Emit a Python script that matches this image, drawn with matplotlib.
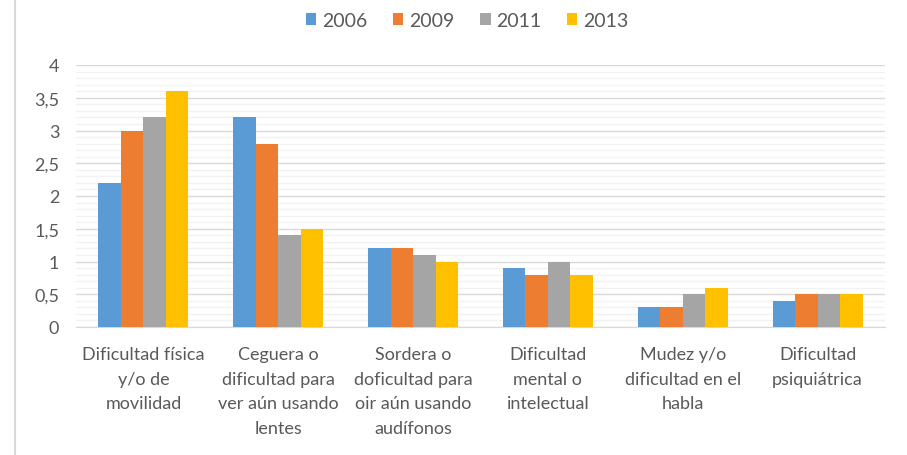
import numpy as np
import matplotlib.pyplot as plt
from matplotlib.lines import Line2D
from matplotlib.ticker import MultipleLocator, FuncFormatter

# --- data ---
categories = [
    'Dificultad física\ny/o de\nmovilidad',
    'Ceguera o\ndificultad para\nver aún usando\nlentes',
    'Sordera o\ndoficultad para\noir aún usando\naudífonos',
    'Dificultad\nmental o\nintelectual',
    'Mudez y/o\ndificultad en el\nhabla',
    'Dificultad\npsiquiátrica',
]
years = ['2006', '2009', '2011', '2013']
v2006 = [2.2, 3.2, 1.2, 0.9, 0.3, 0.4]
v2009 = [3.0, 2.8, 1.2, 0.8, 0.3, 0.5]
v2011 = [3.2, 1.4, 1.1, 1.0, 0.5, 0.5]
v2013 = [3.6, 1.5, 1.0, 0.8, 0.6, 0.5]
series = [v2006, v2009, v2011, v2013]
colors = ['#5B9BD5', '#ED7D31', '#A5A5A5', '#FFC000']

plt.rcParams['font.family'] = ['Lato', 'DejaVu Sans']
text_color = '#595959'

fig = plt.figure(figsize=(9.07, 4.56), dpi=100)
ax = fig.add_axes([76 / 907, 1 - 328 / 456, 809 / 907, 262 / 456])

x = np.arange(len(categories))
bw = 0.167
for i, (vals, col, yr) in enumerate(zip(series, colors, years)):
    ax.bar(x + (i - 1.5) * bw, vals, width=bw, color=col, label=yr, zorder=3)

ax.set_xlim(-0.5, len(categories) - 0.5)
ax.set_ylim(0, 4)
ax.yaxis.set_major_locator(MultipleLocator(0.5))
ax.yaxis.set_minor_locator(MultipleLocator(0.1))
ax.yaxis.set_major_formatter(FuncFormatter(lambda v, p: f'{v:g}'.replace('.', ',')))
ax.grid(True, which='major', axis='y', color='#D9D9D9', linewidth=1.0, zorder=0)
ax.grid(True, which='minor', axis='y', color='#F2F2F2', linewidth=1.0, zorder=0)

ax.set_xticks(x)
ax.set_xticklabels(categories, fontsize=13, color=text_color, linespacing=1.65, va='top')
ax.tick_params(axis='x', length=0, pad=14)
ax.tick_params(axis='y', which='both', length=0, labelsize=13, labelcolor=text_color, pad=12)

for side in ['top', 'right', 'left']:
    ax.spines[side].set_visible(False)
ax.spines['bottom'].set_color('#D9D9D9')

# thin frame line on the left edge of the image
fig.add_artist(Line2D([15 / 907, 15 / 907], [0, 1], color='#D9D9D9', linewidth=1.5))

fig.legend(loc='upper center', bbox_to_anchor=(0.515, 1.01), ncol=4, frameon=False,
           fontsize=14, labelcolor=text_color, handlelength=0.55, handleheight=0.55,
           handletextpad=0.3, columnspacing=1.3)

fig.savefig('out.png', dpi=100)
